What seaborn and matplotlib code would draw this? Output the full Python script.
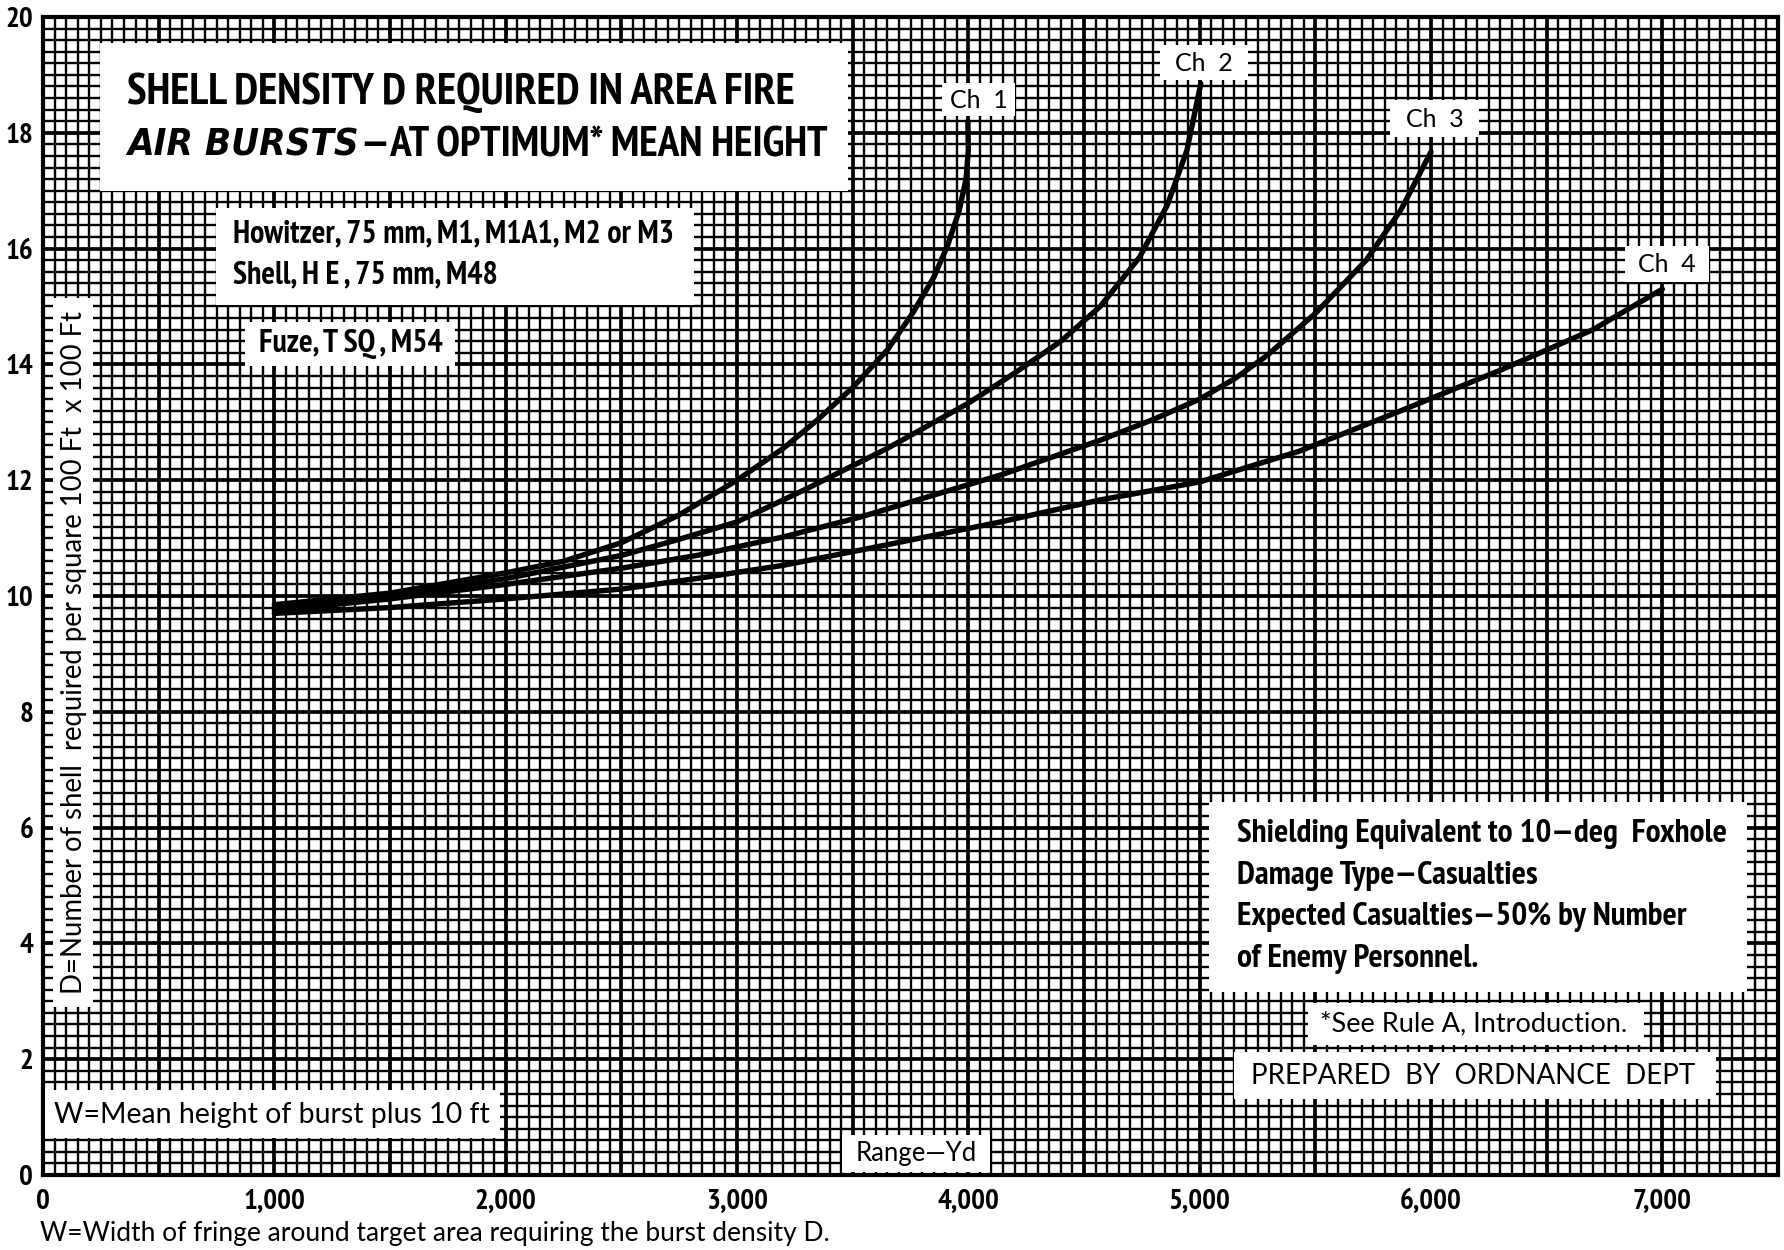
import numpy as np
import pandas as pd
import matplotlib
matplotlib.use("Agg")
import matplotlib.pyplot as plt
from matplotlib import font_manager as fm
from matplotlib.patches import Rectangle
from matplotlib.ticker import MultipleLocator
import seaborn as sns

# ---------------- data ----------------
ch1_x = [1000, 1500, 2000, 2250, 2500, 2750, 3000, 3200, 3350, 3500, 3650, 3760, 3850, 3910, 3960, 3990, 4000, 3998]
ch1_y = [9.85, 10.05, 10.4, 10.6, 10.92, 11.4, 12.0, 12.55, 13.05, 13.6, 14.25, 14.89, 15.5, 16.05, 16.65, 17.2, 17.7, 18.2]
ch2_x = [1000, 1500, 2000, 2500, 2750, 3000, 3300, 3650, 4000, 4200, 4400, 4570, 4740, 4860, 4945, 5005]
ch2_y = [9.8, 10.0, 10.3, 10.7, 10.98, 11.28, 11.85, 12.55, 13.33, 13.85, 14.4, 15.0, 15.85, 16.75, 17.7, 18.85]
ch3_x = [1000, 1500, 2000, 2500, 2840, 3200, 3530, 4140, 4570, 4800, 5000, 5150, 5290, 5500, 5720, 5870, 6000]
ch3_y = [9.75, 9.95, 10.2, 10.48, 10.71, 11.02, 11.36, 12.09, 12.69, 13.05, 13.4, 13.75, 14.15, 14.88, 15.8, 16.67, 17.67]
ch4_x = [1000, 1500, 2000, 2500, 2840, 3200, 3530, 4140, 4570, 5000, 5430, 5870, 6300, 6700, 7000]
ch4_y = [9.7, 9.8, 9.95, 10.12, 10.31, 10.53, 10.79, 11.28, 11.66, 11.97, 12.5, 13.2, 13.9, 14.6, 15.3]
series_names = ["Ch 1", "Ch 2", "Ch 3", "Ch 4"]

x_ticks = list(range(0, 7501, 500))
x_tick_labels = ["0", "", "1,000", "", "2,000", "", "3,000", "", "4,000", "", "5,000", "", "6,000", "", "7,000", ""]
y_ticks = list(range(0, 21, 2))
y_tick_labels = [str(v) for v in y_ticks]

title_line1 = "SHELL DENSITY D REQUIRED IN AREA FIRE"
title_line2a = "AIR BURSTS"
title_line2b = "\u2014AT OPTIMUM* MEAN HEIGHT"
weapon_lines = ["Howitzer, 75 mm, M1, M1A1, M2 or M3", "Shell, H E , 75 mm, M48"]
fuze_text = "Fuze, T SQ , M54"
ylabel_text = "D=Number of shell  required per square 100 Ft  x 100 Ft"
cond_lines = ["Shielding Equivalent to 10\u2014deg  Foxhole",
              "Damage Type\u2014Casualties",
              "Expected Casualties\u201450% by Number",
              "of Enemy Personnel."]
rule_text = "*See Rule A, Introduction."
prepared_text = "PREPARED  BY  ORDNANCE  DEPT"
wmean_text = "W=Mean height of burst plus 10 ft"
range_text = "Range\u2014Yd"
caption_text = "W=Width of fringe around target area requiring the burst density D."

# ---------------- fonts ----------------
sns.set_theme(style="white")
plt.rcParams["font.family"] = ["Lato", "DejaVu Sans"]


def isbold(f):
    w = f.weight
    if isinstance(w, str):
        return w in ("bold", "heavy", "black", "demibold", "extra bold", "semibold")
    return w >= 600


def pick(preds, default):
    for p in preds:
        for f in fm.fontManager.ttflist:
            try:
                if p(f):
                    return fm.FontProperties(fname=f.fname)
            except Exception:
                pass
    return default


condset = ("condensed", "semi-condensed", "extra-condensed", "ultra-condensed")
cond_bold = pick([
    lambda f: "Narrow" in f.name and isbold(f) and f.style == "normal",
    lambda f: f.stretch in condset and isbold(f) and f.style == "normal",
], fm.FontProperties(family="DejaVu Sans", weight="bold"))
cond_bold_it = pick([
    lambda f: "Narrow" in f.name and isbold(f) and f.style in ("italic", "oblique"),
    lambda f: f.stretch in condset and isbold(f) and f.style in ("italic", "oblique"),
], fm.FontProperties(family="DejaVu Sans", weight="bold", style="italic"))
regular = ["Lato", "DejaVu Sans"]

# ---------------- figure ----------------
W, H = 1784, 1250
fig = plt.figure(figsize=(W / 100, H / 100), dpi=100)
fig.patch.set_facecolor("white")


def fx(px):
    return px / W


def fy(py):
    return 1 - py / H


ax = fig.add_axes([fx(43), fy(1175), fx(1778) - fx(43), fy(17) - fy(1175)])

frames = []
for name, xs, ys in zip(series_names, [ch1_x, ch2_x, ch3_x, ch4_x], [ch1_y, ch2_y, ch3_y, ch4_y]):
    frames.append(pd.DataFrame({"range": xs, "D": ys, "charge": name}))
df = pd.concat(frames, ignore_index=True)

sns.lineplot(data=df, x="range", y="D", hue="charge", units="charge", estimator=None,
             sort=False, palette=["black"] * 4, linewidth=3.9, legend=False, ax=ax, zorder=3)
for ln in ax.get_lines():
    ln.set_solid_joinstyle("round")
    ln.set_solid_capstyle("round")

ax.set_xlim(0, 7500)
ax.set_ylim(0, 20)
ax.set_xticks(x_ticks, x_tick_labels, fontproperties=cond_bold, fontsize=21)
ax.set_yticks(y_ticks, y_tick_labels, fontproperties=cond_bold, fontsize=21)
ax.xaxis.set_minor_locator(MultipleLocator(50))
ax.yaxis.set_minor_locator(MultipleLocator(0.2))
ax.set_axisbelow(True)
ax.grid(which="minor", color="black", linewidth=1.7)
ax.grid(which="major", color="black", linewidth=2.7)
ax.tick_params(which="both", length=0)
ax.tick_params(axis="x", pad=10, colors="black")
ax.tick_params(axis="y", pad=7, colors="black")
ax.set_xlabel("")
ax.set_ylabel("")
for s in ax.spines.values():
    s.set_visible(True)
    s.set_color("black")
    s.set_linewidth(3)


def box(x0, y0, x1, y1):
    fig.add_artist(Rectangle((fx(x0), fy(y1)), fx(x1) - fx(x0), fy(y0) - fy(y1),
                             transform=fig.transFigure, facecolor="white", edgecolor="none", zorder=5))


def txt(x, y, s, **kw):
    kw.setdefault("va", "center")
    kw.setdefault("ha", "left")
    kw.setdefault("color", "black")
    return fig.text(fx(x), fy(y), s, zorder=6, **kw)


# title
box(100, 43, 848, 191)
txt(127, 93, title_line1, fontproperties=cond_bold, fontsize=32)
t2 = txt(127, 146, title_line2a, fontproperties=cond_bold_it, fontsize=27.5)
fig.canvas.draw()
bb = t2.get_window_extent()
txt(bb.x1 + 2, 146, title_line2b, fontproperties=cond_bold, fontsize=31)

# weapon
box(216, 208, 694, 305)
txt(233, 234, weapon_lines[0], fontproperties=cond_bold, fontsize=23)
txt(233, 275, weapon_lines[1], fontproperties=cond_bold, fontsize=23)
box(245, 322, 455, 366)
txt(259, 344, fuze_text, fontproperties=cond_bold, fontsize=23)

# y label
box(53, 298, 93, 1007)
txt(74, 653, ylabel_text, family=regular, fontsize=19.8, rotation=90, ha="center")

# conditions
box(1209, 802, 1747, 992)
for i, line in enumerate(cond_lines):
    txt(1237, 834 + i * 41.7, line, fontproperties=cond_bold, fontsize=24)
box(1308, 1003, 1644, 1045)
txt(1320, 1024, rule_text, family=regular, fontsize=19.5)
box(1234, 1052, 1716, 1099)
txt(1251, 1076, prepared_text, family=regular, fontsize=20)

# bottom-left
box(45, 1090, 500, 1138)
txt(54, 1115, wmean_text, family=regular, fontsize=20.5)
box(842, 1135, 990, 1172)
txt(916, 1154, range_text, family=regular, fontsize=18.5, ha="center")
txt(40, 1234, caption_text, family=regular, fontsize=19)

# curve labels
for name, (x0, y0, x1, y1) in zip(series_names, [(942, 83, 1015, 116), (1160, 45, 1248, 80),
                                                   (1390, 100, 1479, 137), (1625, 246, 1709, 282)]):
    box(x0, y0, x1, y1)
    txt((x0 + x1) / 2, (y0 + y1) / 2 + 1, name.replace(" ", "  "), family=regular, fontsize=18, ha="center")

fig.savefig("out.png", dpi=100, facecolor="white")
